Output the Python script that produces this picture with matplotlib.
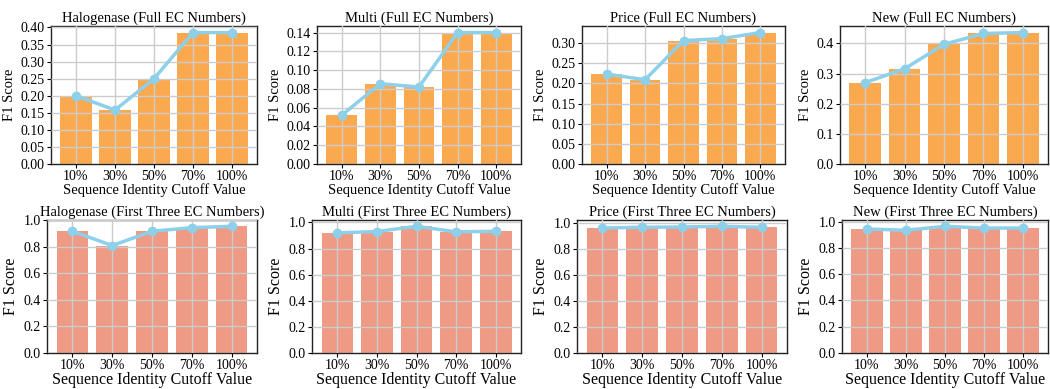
import matplotlib
matplotlib.use('Agg')
import matplotlib.pyplot as plt
import numpy as np

plt.rcParams['font.family'] = ['Liberation Serif', 'DejaVu Serif']

cutoffs = ['10%', '30%', '50%', '70%', '100%']

# F1 scores, full EC number match
halogenase_full = [0.200, 0.158, 0.250, 0.385, 0.385]
multi_full = [0.052, 0.0855, 0.082, 0.140, 0.140]
price_full = [0.223, 0.209, 0.306, 0.311, 0.326]
new_full = [0.270, 0.316, 0.397, 0.433, 0.436]

# F1 scores, first three EC numbers match
halogenase_three = [0.918, 0.810, 0.918, 0.945, 0.955]
multi_three = [0.920, 0.930, 0.970, 0.928, 0.932]
price_three = [0.962, 0.968, 0.970, 0.975, 0.968]
new_three = [0.945, 0.935, 0.965, 0.952, 0.952]

top_titles = ['Halogenase (Full EC Numbers)', 'Multi (Full EC Numbers)',
              'Price (Full EC Numbers)', 'New (Full EC Numbers)']
bottom_titles = ['Halogenase (First Three EC Numbers)', 'Multi (First Three EC Numbers)',
                 'Price (First Three EC Numbers)', 'New (First Three EC Numbers)']

# y tick spacing and decimals for the top row
top_steps = [0.05, 0.02, 0.05, 0.1]
top_fmt = ['%.2f', '%.2f', '%.2f', '%.1f']

W, H = 1050, 389
fig = plt.figure(figsize=(10.5, 3.89), dpi=100)

# panel boxes in pixels: (left, right)
top_boxes = [(51, 257), (317, 521), (582, 785), (840, 1048)]
bottom_boxes = [(47, 257), (312, 521), (577, 787), (842, 1048)]


def panel(box, ytop, ybot, title, values, color, label_size):
    l, r = box
    ax = fig.add_axes([l / W, 1 - ybot / H, (r - l) / W, (ybot - ytop) / H])
    x = np.arange(len(cutoffs))
    ax.bar(x, values, width=0.8, color=color, zorder=1)
    ax.plot(x, values, color='#8ecfea', linewidth=2.5, marker='o',
            markersize=6, zorder=3)
    ax.grid(True, color='#cccccc', linewidth=1.0, zorder=2)
    ax.set_axisbelow(False)
    ax.set_xticks(x)
    ax.set_xticklabels(cutoffs)
    ax.set_title(title, fontsize=10.5, pad=3)
    ax.set_xlabel('Sequence Identity Cutoff Value', fontsize=label_size, labelpad=0)
    ax.set_ylabel('F1 Score', fontsize=label_size, labelpad=3)
    ax.tick_params(labelsize=10, length=3, pad=1.5)
    for s in ax.spines.values():
        s.set_color('#222222')
        s.set_linewidth(1.0)
    return ax


full_sets = [halogenase_full, multi_full, price_full, new_full]
three_sets = [halogenase_three, multi_three, price_three, new_three]

for i in range(4):
    ax = panel(top_boxes[i], 26, 164, top_titles[i], full_sets[i], '#fba94f', 10.5)
    ymax = max(full_sets[i]) * 1.05
    ax.set_ylim(0, ymax)
    ticks = np.arange(0, ymax + 1e-9, top_steps[i])
    ax.set_yticks(ticks)
    ax.set_yticklabels([top_fmt[i] % t for t in ticks])

    ax = panel(bottom_boxes[i], 220, 353, bottom_titles[i], three_sets[i], '#ee9a84', 11.5)
    ax.set_ylim(0, max(three_sets[i]) * 1.05)
    ax.set_yticks([0.0, 0.2, 0.4, 0.6, 0.8, 1.0])

fig.savefig('out.png', dpi=100)
